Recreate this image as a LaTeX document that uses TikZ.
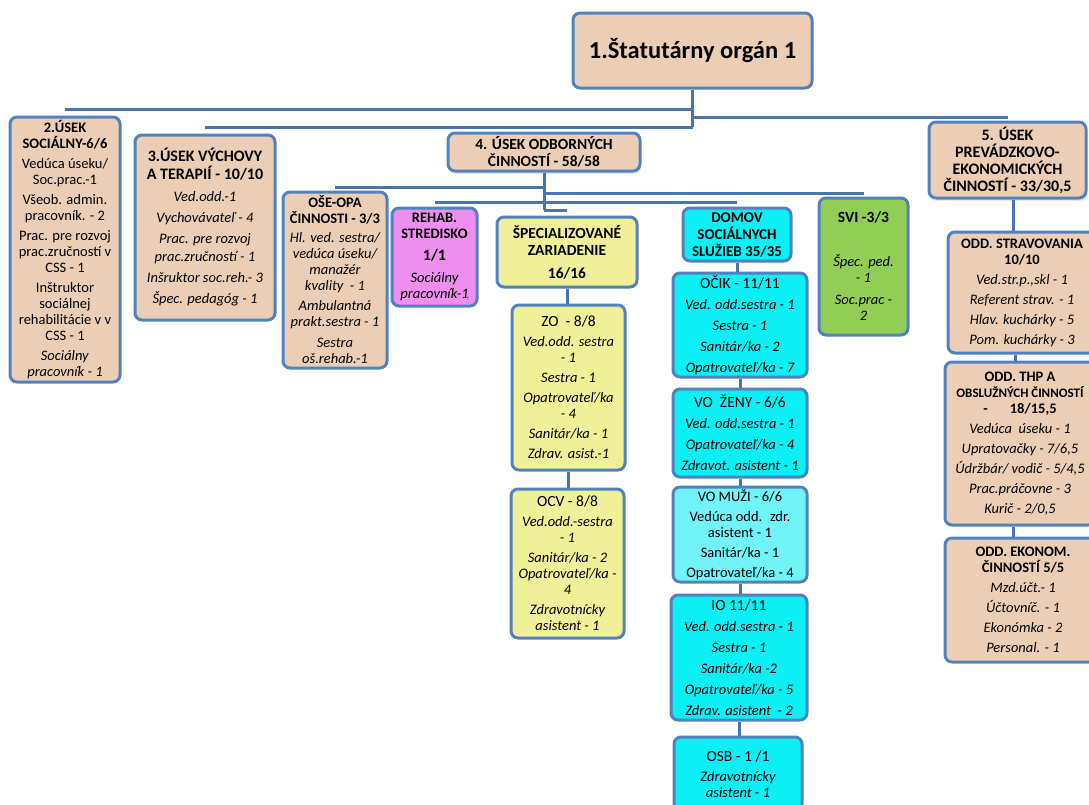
\documentclass[tikz,border=0pt]{standalone}
\usepackage{fontspec}
\setmainfont{Carlito}
\usepackage{tikz}
\usetikzlibrary{shadows}
\definecolor{peach}{RGB}{235,206,181}
\definecolor{frame}{RGB}{82,130,190}
\definecolor{linkblue}{RGB}{72,116,176}
\definecolor{lemon}{RGB}{240,240,152}
\definecolor{rehabpink}{RGB}{238,142,238}
\definecolor{aqua}{RGB}{10,240,245}
\definecolor{paleaqua}{RGB}{112,244,250}
\definecolor{leaf}{RGB}{146,206,86}
\newcommand{\itemfont}{\fontsize{14.5}{16}\selectfont}
\newcommand{\hd}[1]{\textup{\bfseries #1}}
\newcommand{\hdbig}[1]{\textup{\bfseries\fontsize{16}{18}\selectfont #1}}
\newcommand{\rg}[1]{\textup{#1}}

\begin{document}
\begin{tikzpicture}[x=1pt, y=-1pt,
  box/.style={draw=frame, line width=3pt, rounded corners=7pt, align=center,
              inner xsep=2pt, inner ysep=0pt, font=\itemfont\itshape},
  upbox/.style={box, font=\itemfont},
  glow/.style={drop shadow={shadow xshift=1pt, shadow yshift=-3pt, opacity=0.18, fill=gray}},
  link/.style={draw=linkblue, line width=3pt},
]
\useasboundingbox (0,0) rectangle (1089,804);
\clip (0,0) rectangle (1089,804);

% Statutarny organ
\node[box, fill=peach, minimum width=239, minimum height=75,
      font=\fontsize{24.5}{28}\selectfont\bfseries] (root) at (692.5,50.5) {1.Štatutárny orgán 1};

% Useky
\node[upbox, fill=peach, minimum width=110, minimum height=265] (s2) at (65,249.5)
  {\hd{2.ÚSEK}\\ \hd{SOCIÁLNY-6/6}\\[4pt]
   Vedúca úseku/\\ Soc.prac.-1\\[4pt]
   Všeob. admin.\\ pracovník. - 2\\[4pt]
   Prac. pre rozvoj\\ prac.zručností v\\ CSS - 1\\[4pt]
   Inštruktor\\ sociálnej\\ rehabilitácie v v\\ CSS - 1\\[4pt]
   \textit{Sociálny}\\ \textit{pracovník - 1}};
\node[box, fill=peach, minimum width=140, minimum height=185,
      font=\fontsize{14.5}{18}\selectfont\itshape] (s3) at (205,227.5)
  {\hdbig{3.ÚSEK VÝCHOVY}\\ \hdbig{A TERAPIÍ - 10/10}\\[4pt]
   Ved.odd.-1\\[3pt]
   Vychovávateľ - 4\\[3pt]
   Prac. pre rozvoj\\ prac.zručností - 1\\[3pt]
   Inšruktor soc.reh.- 3\\[3pt]
   Špec. pedagóg - 1};
\node[box, glow, fill=peach, minimum width=192, minimum height=38,
      font=\fontsize{15.5}{17}\selectfont\bfseries] (s4) at (544,152)
  {4. ÚSEK ODBORNÝCH\\ ČINNOSTÍ - 58/58};
\node[box, glow, fill=peach, minimum width=157, minimum height=76,
      font=\fontsize{16}{17}\selectfont\bfseries] (s5) at (1007.5,160)
  {5. ÚSEK\\ PREVÁDZKOVO-\\ EKONOMICKÝCH\\ ČINNOSTÍ - 33/30,5};

% Odborne cinnosti
\node[box, fill=peach, minimum width=104, minimum height=176] (ose) at (335,280)
  {\hd{OŠE-OPA}\\ \hd{ČINNOSTI - 3/3}\\[3pt]
   Hl. ved. sestra/\\ vedúca úseku/\\ manažér\\ kvality~ - 1\\[4pt]
   Ambulantná\\ prakt.sestra - 1\\[5pt]
   Sestra\\ oš.rehab.-1};
\node[box, fill=rehabpink, minimum width=85, minimum height=98] (rehab) at (434.5,257)
  {\hd{REHAB.}\\ \hd{STREDISKO}\\[6pt]
   \hd{\fontsize{16}{17}\selectfont 1/1}\\[6pt]
   Sociálny\\ pracovník-1};
\node[box, fill=lemon, minimum width=140, minimum height=70,
      font=\fontsize{15.5}{17}\selectfont\bfseries] (spec) at (567,252)
  {ŠPECIALIZOVANÉ\\ ZARIADENIE\\[6pt] 16/16};
\node[box, fill=lemon, minimum width=113, minimum height=165] (zo) at (568.5,387.5)
  {\rg{\fontsize{15.5}{17}\selectfont ZO~ - 8/8}\\[4pt]
   Ved.odd. sestra\\ - 1\\[4pt]
   Sestra - 1\\[4pt]
   Opatrovateľ/ka\\ - 4\\[4pt]
   Sanitár/ka - 1\\[4pt]
   Zdrav. asist.-1};
\node[box, fill=lemon, minimum width=113, minimum height=149] (ocv) at (567.5,563.5)
  {\rg{\fontsize{15.5}{17}\selectfont OCV - 8/8}\\[4pt]
   Ved.odd.-sestra\\ - 1\\[4pt]
   Sanitár/ka - 2\\ Opatrovateľ/ka -\\ 4\\[4pt]
   Zdravotnícky\\ asistent - 1};
\node[box, fill=aqua, minimum width=108, minimum height=53,
      font=\fontsize{15}{17}\selectfont\bfseries] (domov) at (737,234.5)
  {DOMOV\\ SOCIÁLNYCH\\ SLUŽIEB 35/35};
\node[box, fill=aqua, minimum width=134, minimum height=104] (ocik) at (740,325)
  {\rg{\fontsize{15.5}{17}\selectfont OČIK - 11/11}\\[5pt]
   Ved. odd.sestra - 1\\[5pt]
   Sestra - 1\\[5pt]
   Sanitár/ka - 2\\[5pt]
   Opatrovateľ/ka - 7};
\node[box, fill=aqua, minimum width=134, minimum height=88] (vozeny) at (740,433)
  {\rg{\fontsize{15.5}{17}\selectfont VO~ ŽENY - 6/6}\\[5pt]
   Ved. odd.sestra - 1\\[5pt]
   Opatrovateľ/ka - 4\\[5pt]
   Zdravot. asistent - 1};
\node[upbox, fill=paleaqua, minimum width=134, minimum height=95] (vomuzi) at (740,534.5)
  {VO MUŽI - 6/6\\[4pt]
   Vedúca odd.~ zdr.\\ asistent - 1\\[4pt]
   Sanitár/ka - 1\\[4pt]
   Opatrovateľ/ka - 4};
\node[box, fill=aqua, minimum width=136, minimum height=125] (io) at (739,657.5)
  {\rg{\fontsize{15.5}{17}\selectfont IO 11/11}\\[5pt]
   Ved. odd.sestra - 1\\[5pt]
   Sestra - 1\\[5pt]
   Sanitár/ka -2\\[5pt]
   Opatrovateľ/ka - 5\\[5pt]
   Zdrav. asistent~ - 2};
\node[box, fill=aqua, minimum width=128, minimum height=74] (osb) at (738,774)
  {\rg{\fontsize{15.5}{17}\selectfont OSB - 1 /1}\\[4pt]
   Zdravotnícky\\ asistent - 1};
\node[box, fill=leaf, minimum width=89, minimum height=137] (svi) at (863.5,266.5)
  {\hd{\fontsize{15.5}{17}\selectfont SVI -3/3}\\[28pt]
   Špec. ped.\\ - 1\\[6pt]
   Soc.prac -\\ 2};

% Prevadzkovo-ekonomicke cinnosti
\node[box, fill=peach, minimum width=148, minimum height=121] (strav) at (1022,292.5)
  {\hd{ODD. STRAVOVANIA}\\ \hd{10/10}\\[4pt]
   Ved.str.p.,skl - 1\\[4pt]
   Referent strav. - 1\\[4pt]
   Hlav. kuchárky - 5\\[4pt]
   Pom. kuchárky - 3};
\node[box, fill=peach, minimum width=150, minimum height=163] (thp) at (1020,443.5)
  {\hd{ODD. THP A}\\ \hd{\fontsize{13}{16}\selectfont OBSLUŽNÝCH ČINNOSTÍ}\\ \hd{-\hspace{22pt}18/15,5}\\[4pt]
   Vedúca~ úseku - 1\\[4pt]
   Upratovačky - 7/6,5\\[4pt]
   Údržbár/ vodič - 5/4,5\\[4pt]
   Prac.práčovne - 3\\[4pt]
   Kurič - 2/0,5};
\node[box, fill=peach, minimum width=156, minimum height=124] (ekonom) at (1023,600)
  {\hd{ODD. EKONOM.}\\ \hd{ČINNOSTÍ 5/5}\\[4pt]
   Mzd.účt.- 1\\[4pt]
   Účtovníč. - 1\\[4pt]
   Ekonómka - 2\\[4pt]
   Personal. - 1};

% Urovne spojnic
\coordinate (lvlA) at (0,109);
\coordinate (lvlB) at (0,117);
\coordinate (lvlC) at (0,127);
\coordinate (lvlD) at (0,187);
\coordinate (lvlE) at (0,193);
\coordinate (lvlF) at (0,202);
\coordinate (lvlG) at (0,210);

% Spojnice
\draw[link] (root.south) -- (root.south |- lvlC);
\draw[link] (root.south |- lvlA) -- (s2.north |- lvlA);
\draw[link] (root.south |- lvlB) -- (s5.north |- lvlB);
\draw[link] (root.south |- lvlC) -- (s3.north |- lvlC);

\draw[link] (s4.south) -- (s4.south |- lvlG);
\draw[link] (s4.south |- lvlD) -- (ose.north |- lvlD);
\draw[link] (s4.south |- lvlE) -- (svi.north |- lvlE);
\draw[link] (rehab.north |- lvlF) -- (domov.north |- lvlF);
\draw[link] (s4.south |- lvlG) -- (spec.north |- lvlG);

\draw[link] (spec.south) -- (spec.south |- zo.north);
\draw[link] (zo.south) -- (zo.south |- ocv.north);
\draw[link] (domov.south) -- (domov.south |- ocik.north);
\draw[link] (ocik.south) -- (ocik.south |- vozeny.north);
\draw[link] (vozeny.south) -- (vozeny.south |- vomuzi.north);
\draw[link] (vomuzi.south) -- (vomuzi.south |- io.north);
\draw[link] (io.south) -- (io.south |- osb.north);

\draw[link] ([xshift=6pt]s5.south) -- ([xshift=6pt]s5.south |- strav.north);
\draw[link] ([xshift=-7pt]strav.south) -- ([xshift=-7pt]strav.south |- thp.north);
\draw[link] ([xshift=-7pt]thp.south) -- ([xshift=-7pt]thp.south |- ekonom.north);

\end{tikzpicture}
\end{document}
